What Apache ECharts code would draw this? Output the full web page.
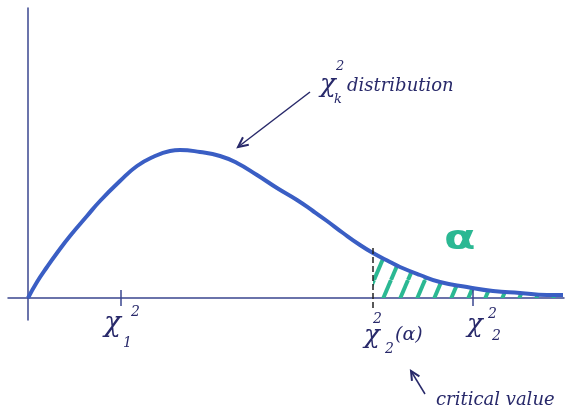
<!DOCTYPE html>
<html>
<head>
<meta charset="utf-8">
<script src="https://cdn.jsdelivr.net/npm/echarts@6/dist/echarts.min.js"></script>
<style>
html, body { margin: 0; padding: 0; background: #fff; }
#chart { width: 566px; height: 411px; }
</style>
</head>
<body>
<div id="chart"></div>
<script>
// chi-square density as drawn on the sketch (x in arbitrary units, y = density)
var curveX = [0, 0.9, 1.9, 2.9, 4.2, 5.9, 7.2, 9.2, 10.9, 12.5, 14.2, 15.2, 17.2, 19.2, 20.9, 22.9, 24.9, 26.9, 28.5, 29.9, 31.5, 33.2, 34.5, 36.2, 37.2, 39.2, 41.2, 43.9, 46.5, 49.2, 51.9, 53.5];
var curveY = [0, 0.016, 0.031, 0.045, 0.062, 0.082, 0.097, 0.117, 0.132, 0.141, 0.147, 0.148, 0.146, 0.142, 0.135, 0.123, 0.110, 0.098, 0.087, 0.077, 0.065, 0.053, 0.045, 0.036, 0.031, 0.023, 0.016, 0.011, 0.007, 0.005, 0.003, 0.003];
// critical value and the two marked points on the axis
var criticalX = 34.5;
var tickX = [9.3, 44.5];

var ink = '#28296a';
var blue = '#3a5ec4';
var green = '#2bb893';

var curve = curveX.map(function (x, i) { return [x, curveY[i]]; });
var tail = curve.filter(function (p) { return p[0] >= criticalX; });

// hatch pattern for the rejection region
function hatch() {
    var w = 17, h = 40;
    var c = document.createElement('canvas');
    c.width = w; c.height = h;
    var g = c.getContext('2d');
    g.strokeStyle = green;
    g.lineWidth = 4;
    [-w, 0, w].forEach(function (o) {
        g.beginPath();
        g.moveTo(o, h);
        g.lineTo(o + w, 0);
        g.stroke();
    });
    return c;
}

// arrow with an open head, in pixels
function arrow(x1, y1, x2, y2, len) {
    var a = Math.atan2(y2 - y1, x2 - x1);
    var s = 0.45;
    return [
        { type: 'line', shape: { x1: x1, y1: y1, x2: x2, y2: y2 }, style: { stroke: ink, lineWidth: 1.5 } },
        { type: 'polyline', shape: { points: [
            [x2 - len * Math.cos(a - s), y2 - len * Math.sin(a - s)],
            [x2, y2],
            [x2 - len * Math.cos(a + s), y2 - len * Math.sin(a + s)]
        ] }, style: { stroke: ink, lineWidth: 2, fill: null } }
    ];
}

function txt(x, y, s, size, color, weight) {
    return {
        type: 'text', x: x, y: y,
        style: {
            text: s, fill: color || ink, align: 'left', verticalAlign: 'middle',
            font: 'italic ' + (weight || 'normal') + ' ' + size + 'px "DejaVu Serif"'
        }
    };
}

var Chart = echarts.init(document.getElementById('chart'));
Chart.setOption({
    animation: false,
    grid: { left: 8, right: 2, top: 8, bottom: 91 },
    xAxis: {
        type: 'value', min: -2, max: 53.6,
        axisLine: { onZero: true, lineStyle: { color: '#3a468f', width: 1.5 } },
        axisTick: { show: false }, axisLabel: { show: false }, splitLine: { show: false }
    },
    yAxis: {
        type: 'value', min: -0.022, max: 0.29,
        axisLine: { show: true, onZero: true, lineStyle: { color: '#3a468f', width: 1.5 } },
        axisTick: { show: false }, axisLabel: { show: false }, splitLine: { show: false }
    },
    series: [
        {
            type: 'line',
            data: tail,
            smooth: 0.5,
            showSymbol: false,
            lineStyle: { width: 0 },
            areaStyle: { color: { image: hatch(), repeat: 'repeat' }, opacity: 1 },
            markLine: {
                silent: true, symbol: 'none', label: { show: false },
                lineStyle: { color: '#222', type: 'dashed', width: 1.5 },
                data: [[{ coord: [criticalX, 0.05] }, { coord: [criticalX, -0.012] }]]
            },
            z: 2
        },
        {
            type: 'line',
            data: curve,
            smooth: 0.5,
            showSymbol: false,
            lineStyle: { color: blue, width: 4 },
            markLine: {
                silent: true, symbol: 'none', label: { show: false },
                lineStyle: { color: '#3a468f', type: 'solid', width: 1.5 },
                data: tickX.map(function (x) {
                    return [{ coord: [x, 0.008] }, { coord: [x, -0.008] }];
                })
            },
            z: 3
        }
    ],
    graphic: [].concat(
        arrow(310, 92, 238, 147, 11),
        arrow(425, 394, 411, 371, 10),
        [
            // chi^2_k distribution
            txt(320, 85, 'χ', 26),
            txt(336, 67, '2', 13),
            txt(334, 100, 'k', 13),
            txt(347, 86, 'distribution', 18),
            // chi^2_1
            txt(104, 324, 'χ', 28),
            txt(131, 312, '2', 14),
            txt(123, 343, '1', 14),
            // chi^2_2(alpha)
            txt(364, 336, 'χ', 26),
            txt(373, 319, '2', 14),
            txt(385, 349, '2', 14),
            txt(395, 335, '(α)', 19),
            // chi^2_2
            txt(467, 325, 'χ', 26),
            txt(488, 314, '2', 14),
            txt(492, 336, '2', 14),
            // critical value
            txt(436, 400, 'critical value', 18)
        ],
        [{
            type: 'text', x: 444, y: 240, scaleX: 1.35,
            style: { text: 'α', fill: green, verticalAlign: 'middle', font: 'bold 34px "DejaVu Sans"' }
        }]
    )
});
</script>
</body>
</html>
